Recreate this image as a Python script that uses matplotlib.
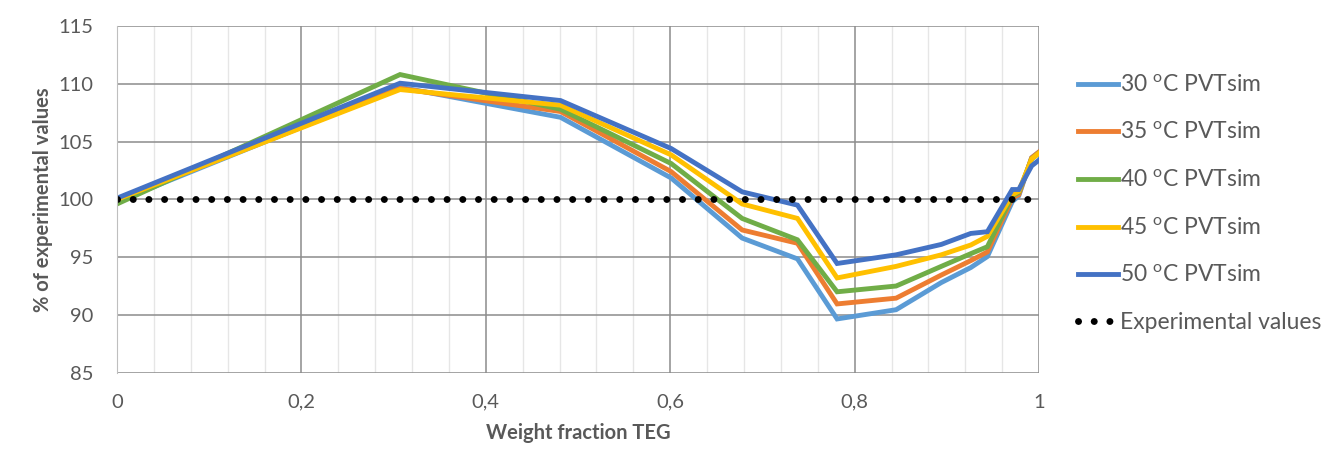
import matplotlib
matplotlib.use('Agg')
import matplotlib.pyplot as plt
from matplotlib.ticker import MultipleLocator, FuncFormatter

# weight fraction TEG at each simulated point
teg = [0, 0.307, 0.481, 0.601, 0.678, 0.738, 0.781, 0.845, 0.894, 0.926, 0.944, 0.971, 0.978, 0.992, 1.0]

# PVTsim results as % of the experimental value
sim_30 = [99.8, 109.7, 107.1, 101.85, 96.65, 94.85, 89.65, 90.45, 92.8, 94.1, 95.05, 99.8, 100.3, 103.6, 104.1]
sim_35 = [100.0, 109.6, 107.6, 102.4, 97.35, 96.2, 90.95, 91.45, 93.45, 94.7, 95.45, 100.1, 100.4, 103.6, 104.1]
sim_40 = [99.6, 110.8, 107.8, 103.1, 98.35, 96.5, 92.0, 92.5, 94.2, 95.3, 95.9, 100.3, 100.6, 103.5, 104.0]
sim_45 = [100.0, 109.5, 108.15, 103.85, 99.6, 98.35, 93.2, 94.2, 95.2, 96.05, 96.8, 100.4, 100.7, 103.5, 104.0]
sim_50 = [100.1, 110.05, 108.55, 104.4, 100.65, 99.5, 94.45, 95.2, 96.1, 97.05, 97.2, 100.85, 100.85, 102.9, 103.4]

exp_x = [0, 1]
exp_y = [100, 100]

series = [
    ('30 $^{\\mathrm{o}}$C PVTsim', sim_30, '#5B9BD5'),
    ('35 $^{\\mathrm{o}}$C PVTsim', sim_35, '#ED7D31'),
    ('40 $^{\\mathrm{o}}$C PVTsim', sim_40, '#70AD47'),
    ('45 $^{\\mathrm{o}}$C PVTsim', sim_45, '#FFC000'),
    ('50 $^{\\mathrm{o}}$C PVTsim', sim_50, '#4472C4'),
]

plt.rcParams['font.family'] = ['Lato', 'DejaVu Sans']
plt.rcParams['mathtext.fontset'] = 'custom'
plt.rcParams['mathtext.rm'] = 'Lato'
grey = '#595959'

fig = plt.figure(figsize=(13.28, 4.5), dpi=100)
ax = fig.add_axes([0.0881, 0.1718, 0.6943, 0.7704])

for label, vals, color in series:
    ax.plot(teg, vals, color=color, lw=3.5, label=label, solid_joinstyle='miter')

ax.plot(exp_x, exp_y, color='black', lw=5.0, dashes=(0.01, 2.25),
        dash_capstyle='round', label='Experimental values')

ax.set_xlim(0, 1)
ax.set_ylim(85, 115)
ax.xaxis.set_major_locator(MultipleLocator(0.2))
ax.xaxis.set_minor_locator(MultipleLocator(0.04))
ax.yaxis.set_major_locator(MultipleLocator(5))
ax.xaxis.set_major_formatter(FuncFormatter(lambda v, p: ('%g' % round(v, 2)).replace('.', ',')))

ax.grid(which='major', axis='both', color='#8c8c8c', lw=1.1)
ax.grid(which='minor', axis='x', color='#e6e6e6', lw=1.0)
ax.set_axisbelow(True)
for s in ['top', 'right', 'bottom']:
    ax.spines[s].set_visible(False)
ax.spines['left'].set_color('#bfbfbf')
ax.tick_params(which='both', length=0)
ax.tick_params(axis='y', pad=17, labelsize=14.5, labelcolor=grey)
ax.tick_params(axis='x', pad=15, labelsize=14.5, labelcolor=grey)

ax.set_xlabel('Weight fraction TEG', fontsize=14.5, fontweight='bold', color=grey, labelpad=9)
ax.set_ylabel('% of experimental values', fontsize=14.5, fontweight='bold', color=grey, labelpad=4)

leg = ax.legend(loc='center left', bbox_to_anchor=(1.02, 0.487), frameon=False,
                fontsize=16.5, handlelength=1.75, handletextpad=0.1, labelspacing=1.14,
                labelcolor=grey)

fig.savefig('out.png', dpi=100)
